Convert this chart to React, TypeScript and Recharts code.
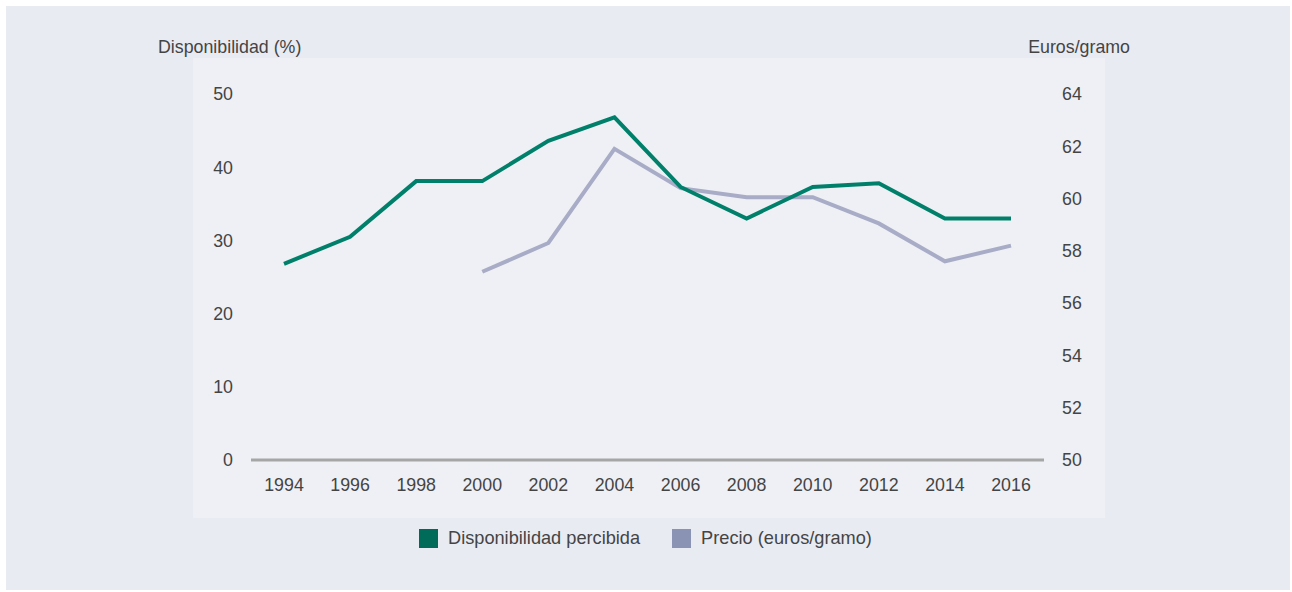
import React from 'react';
import { LineChart, Line, XAxis, YAxis } from 'recharts';

const years = ['1994', '1996', '1998', '2000', '2002', '2004', '2006', '2008', '2010', '2012', '2014', '2016'];
const disponibilidad = [26.8, 30.5, 38.1, 38.1, 43.6, 46.8, 37.3, 33.0, 37.3, 37.8, 33.0, 33.0];
const precio: (number | null)[] = [null, null, null, 57.2, 58.3, 61.9, 60.4, 60.05, 60.05, 59.05, 57.6, 58.2];
const leftTicks = [0, 10, 20, 30, 40, 50];
const rightTicks = [50, 52, 54, 56, 58, 60, 62, 64];

const data = years.map((year, i) => ({
  year,
  disponibilidad: disponibilidad[i],
  precio: precio[i],
}));

const FONT = '"Liberation Sans", Arial, Helvetica, sans-serif';
const TEXT = '#444444';
const GREEN = '#00806b';
const GREEN_KEY = '#006b58';
const GREY = '#a8acc6';
const GREY_KEY = '#8b93b5';
const FS = 17.8;

const tickStyle = { fill: TEXT, fontSize: FS, fontFamily: FONT };

const App: React.FC = () => {
  return (
    <div
      style={{
        position: 'absolute',
        left: 0,
        top: 0,
        width: 1292,
        height: 592,
        background: '#ffffff',
        fontFamily: FONT,
        overflow: 'hidden',
      }}
    >
      <div style={{ position: 'absolute', left: 6, top: 6, width: 1284, height: 584, background: '#e9ebf3' }} />
      <div style={{ position: 'absolute', left: 193, top: 58, width: 912, height: 460, background: '#eef0f5' }} />

      <div style={{ position: 'absolute', left: 158, top: 39, fontSize: FS, lineHeight: 1, color: TEXT, whiteSpace: 'nowrap' }}>
        Disponibilidad (%)
      </div>
      <div style={{ position: 'absolute', right: 162, top: 39, fontSize: FS, lineHeight: 1, color: TEXT, whiteSpace: 'nowrap' }}>
        Euros/gramo
      </div>

      <div style={{ position: 'absolute', left: 0, top: 0 }}>
        <LineChart width={1292} height={592} data={data} margin={{ top: 94, right: 188, bottom: 102, left: 191 }}>
          <XAxis
            dataKey="year"
            tick={tickStyle}
            tickLine={false}
            tickSize={0}
            tickMargin={18}
            axisLine={{ stroke: '#a6a6a6', strokeWidth: 3 }}
            height={30}
            interval={0}
            padding={{ left: 33, right: 33 }}
          />
          <YAxis
            yAxisId="left"
            domain={[0, 50]}
            ticks={leftTicks}
            tick={tickStyle}
            tickLine={false}
            tickSize={0}
            tickMargin={18}
            axisLine={false}
            width={60}
          />
          <YAxis
            yAxisId="right"
            orientation="right"
            domain={[50, 64]}
            ticks={rightTicks}
            tick={{ ...tickStyle, textAnchor: 'start' }}
            tickLine={false}
            tickSize={0}
            tickMargin={18}
            axisLine={false}
            width={60}
          />
          <Line
            yAxisId="right"
            type="linear"
            dataKey="precio"
            stroke={GREY}
            strokeWidth={4}
            dot={false}
            activeDot={false}
            isAnimationActive={false}
          />
          <Line
            yAxisId="left"
            type="linear"
            dataKey="disponibilidad"
            stroke={GREEN}
            strokeWidth={4}
            dot={false}
            activeDot={false}
            isAnimationActive={false}
          />
        </LineChart>
      </div>

      <div
        style={{
          position: 'absolute',
          left: 419,
          top: 529,
          display: 'flex',
          alignItems: 'center',
          fontSize: 18.2,
          lineHeight: '19px',
          color: TEXT,
          whiteSpace: 'nowrap',
        }}
      >
        <span style={{ display: 'inline-block', width: 19, height: 19, background: GREEN_KEY, marginRight: 10 }} />
        <span>Disponibilidad percibida</span>
        <span style={{ display: 'inline-block', width: 19, height: 19, background: GREY_KEY, marginLeft: 32, marginRight: 10 }} />
        <span>Precio (euros/gramo)</span>
      </div>
    </div>
  );
};

export default App;
